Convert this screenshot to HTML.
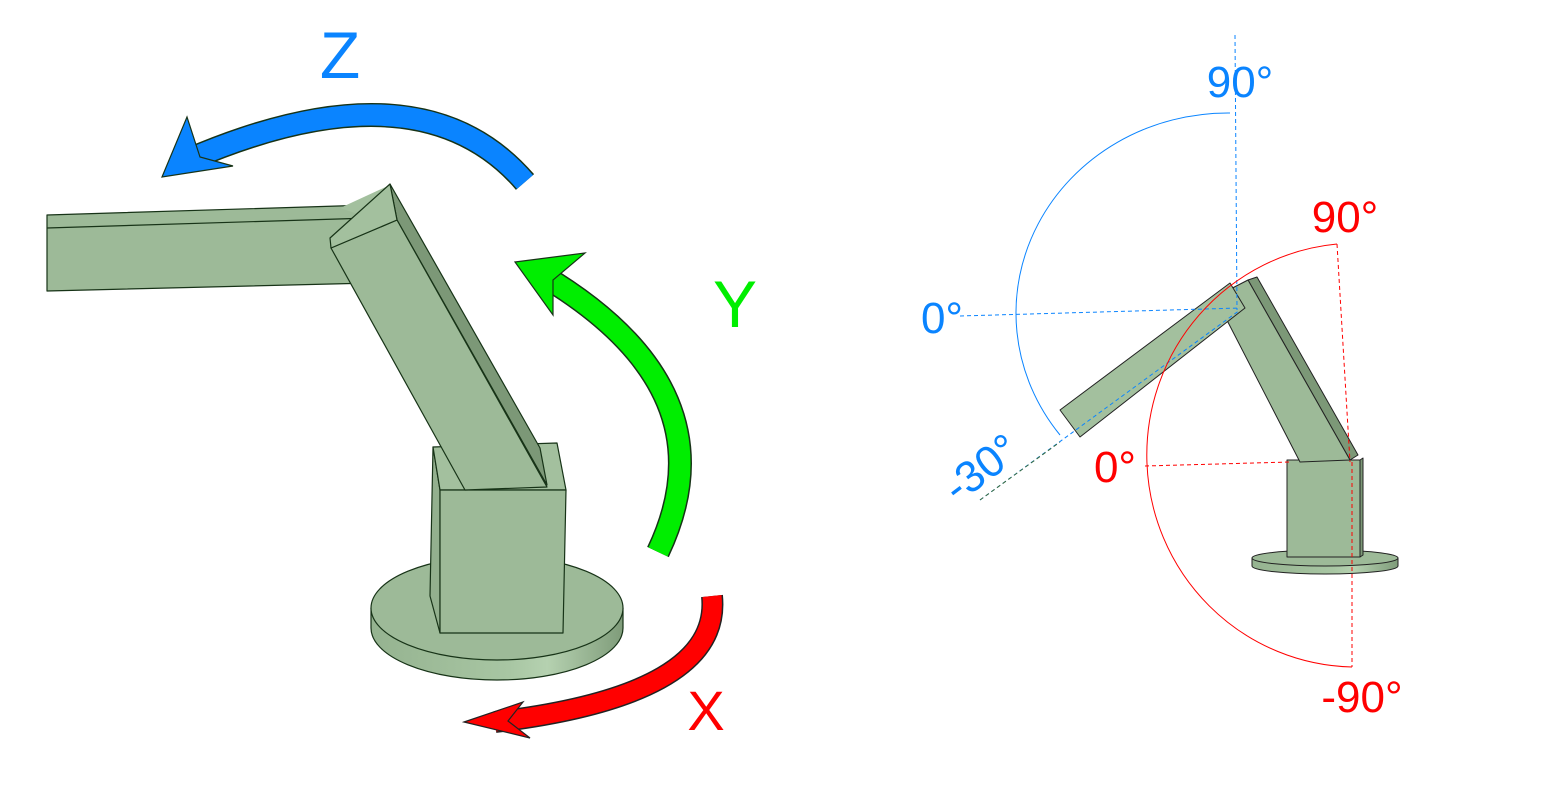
<!DOCTYPE html>
<html><head><meta charset="utf-8"><style>
html,body{margin:0;padding:0;background:#fff;width:1544px;height:786px;overflow:hidden}
svg{display:block}
text{font-family:"Liberation Sans",sans-serif}
</style></head><body>
<svg width="1544" height="786" viewBox="0 0 1544 786">
<defs>
<linearGradient id="disc" x1="0" x2="1"><stop offset="0" stop-color="#95b390"/><stop offset="0.55" stop-color="#a8c6a3"/><stop offset="0.7" stop-color="#b5d1b0"/><stop offset="1" stop-color="#7f9c7a"/></linearGradient>
</defs>
<g stroke="#173317" stroke-width="1.2" stroke-linejoin="round">
  <g>
    <path d="M371 608 L371 628 A126 52 0 0 0 623 628 L623 608 Z" fill="url(#disc)"/>
    <ellipse cx="497" cy="608" rx="126" ry="52" fill="#9dba98"/>
  </g>
  <g>
    <polygon points="433,447 440,490 440,633 430,596" fill="#93b08e"/>
    <polygon points="433,447 557,443 566,490 440,490" fill="#a3c09e"/>
    <polygon points="440,490 566,490 563,633 440,633" fill="#9dba98"/>
  </g>
  <g>
    <polygon points="47,215 370,205 372,283 47,291" fill="#9dba98"/>
    <polyline points="47,228 370,218" fill="none"/>
    <polygon points="340,208 390,185 400,220 370,218" fill="#a3c09e" stroke="none"/>
  </g>
  <g>
    <polygon points="390,184 397,220 547,485 540,448" fill="#7c9877"/>
    <polygon points="331,248 397,220 547,487 465,490" fill="#9dba98"/>
    <polygon points="330,238 390,184 397,220 331,248" fill="#a3c09e"/>
  </g>
</g>
<g>
  <path d="M525 182 Q420 60 188 160" fill="none" stroke="#173317" stroke-width="24"/>
  <path d="M525 182 Q420 60 188 160" fill="none" stroke="#0a84ff" stroke-width="21"/>
  <polygon points="162,177 187,117 200,157 233,166" fill="#0a84ff" stroke="#173317" stroke-width="1.2"/>
</g>
<g>
  <path d="M658 552 Q735 390 542 275" fill="none" stroke="#173317" stroke-width="24"/>
  <path d="M658 552 Q735 390 542 275" fill="none" stroke="#00ee00" stroke-width="21"/>
  <polygon points="515,262 585,253 553,280 553,315" fill="#00ee00" stroke="#173317" stroke-width="1.2"/>
</g>
<g>
  <path d="M712 596 Q722 695 495 722" fill="none" stroke="#222" stroke-width="22"/>
  <path d="M712 596 Q722 695 495 722" fill="none" stroke="#ff0000" stroke-width="19"/>
  <polygon points="464,722 523,702 508,721 530,738" fill="#ff0000" stroke="#222" stroke-width="1.2"/>
</g>
<text x="340" y="78" font-size="66" fill="#0a84ff" text-anchor="middle">Z</text>
<text x="735" y="327" font-size="66" fill="#00ee00" text-anchor="middle">Y</text>
<text x="706" y="730" font-size="56" fill="#ff0000" text-anchor="middle">X</text>

<g stroke="#222" stroke-width="1" stroke-linejoin="round">
  <path d="M1252 558 L1252 566 A73 8 0 0 0 1398 566 L1398 558 Z" fill="url(#disc)"/>
  <ellipse cx="1325" cy="558" rx="73" ry="8" fill="#9dba98"/>
  <rect x="1287" y="460" width="73" height="97" fill="#9dba98"/>
  <polygon points="1360,460 1363,458 1363,555 1360,557" fill="#7c9877"/>
  <polygon points="1248,280 1257,277 1358,455 1350,460" fill="#7c9877"/>
  <polygon points="1215,297 1248,280 1350,460 1300,462" fill="#9dba98"/>
  <polygon points="1060,410 1230,283 1245,308 1080,437" fill="#a3c09e"/>
</g>
<g fill="none" stroke-width="1">
  <path d="M1230 113 A212 200 0 0 0 1060 435" stroke="#0a84ff"/>
  <line x1="1235" y1="35" x2="1237" y2="310" stroke="#0a84ff" stroke-dasharray="4,3"/>
  <line x1="960" y1="316" x2="1240" y2="308" stroke="#0a84ff" stroke-dasharray="4,3"/>
  <line x1="980" y1="500" x2="1240" y2="310" stroke="#0a84ff" stroke-dasharray="4,3"/>
  <line x1="980" y1="500" x2="1060" y2="442" stroke="#3a6a3a" stroke-dasharray="4,3"/>
</g>
<g fill="none" stroke-width="1">
  <path d="M1337 244 A210 212 0 0 0 1352 667" stroke="#ff0000"/>
  <line x1="1337" y1="244" x2="1350" y2="462" stroke="#ff0000" stroke-dasharray="4,3"/>
  <line x1="1352" y1="462" x2="1352" y2="667" stroke="#ff0000" stroke-dasharray="4,3"/>
  <line x1="1145" y1="466" x2="1290" y2="462" stroke="#ff0000" stroke-dasharray="4,3"/>
</g>
<text x="1240" y="97" font-size="44" fill="#0a84ff" text-anchor="middle">90°</text>
<text x="942" y="333" font-size="44" fill="#0a84ff" text-anchor="middle">0°</text>
<text x="0" y="0" font-size="44" fill="#0a84ff" text-anchor="middle" transform="translate(990,480) rotate(-37)">-30°</text>
<text x="1345" y="232" font-size="44" fill="#ff0000" text-anchor="middle">90°</text>
<text x="1115" y="482" font-size="44" fill="#ff0000" text-anchor="middle">0°</text>
<text x="1362" y="712" font-size="44" fill="#ff0000" text-anchor="middle">-90°</text>
</svg>
</body></html>
